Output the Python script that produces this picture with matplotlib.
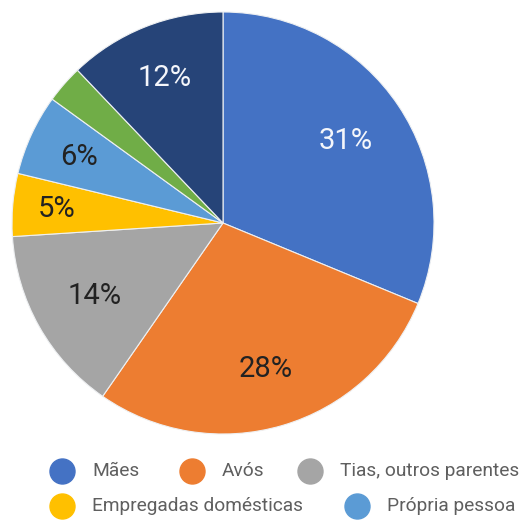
import matplotlib
matplotlib.use("Agg")
import numpy as np
import matplotlib.pyplot as plt
from matplotlib.lines import Line2D

categories = ["Mães", "Avós", "Tias, outros parentes", "Empregadas domésticas",
              "Própria pessoa", "Outros", "Ninguém"]
values = [31.2, 28.4, 14.3, 4.8, 6.2, 2.9, 12.1]
colors = ["#4472C4", "#ED7D31", "#A5A5A5", "#FFC000", "#5B9BD5", "#70AD47", "#264478"]
label_colors = ["#f4f6fb", "#222222", "#222222", "#222222", "#222222", "white", "#f4f6fb"]
label_dist = [0.70, 0.72, 0.70, 0.79, 0.75, 0.75, 0.74]
legend_items = categories[:5]

plt.rcParams["font.family"] = ["Roboto", "DejaVu Sans"]

W, H = 524, 521
fig = plt.figure(figsize=(W / 100, H / 100), dpi=100)

cx, cy, r = 223, 223, 211
ax = fig.add_axes([(cx - r) / W, (H - cy - r) / H, 2 * r / W, 2 * r / H])

wedges, _ = ax.pie(
    values, colors=colors, startangle=90, counterclock=False, radius=1,
    wedgeprops=dict(edgecolor="#eef0f2", linewidth=0.8),
)

# percentage labels inside the larger slices
for w, v, c, d in zip(wedges, values, label_colors, label_dist):
    if v < 4:
        continue
    mid = np.deg2rad((w.theta1 + w.theta2) / 2)
    ax.text(d * np.cos(mid), d * np.sin(mid), f"{v:.0f}%", fontsize=21,
            color=c, ha="center", va="center")

ax.set_xlim(-1, 1)
ax.set_ylim(-1, 1)
ax.set_aspect("equal")
ax.axis("off")

# two-row legend with circular markers
rows = [[(62, 0), (192, 1), (310, 2)], [(62, 3), (357, 4)]]
row_y = [471, 506]
for ry, row in zip(row_y, rows):
    for mx, idx in row:
        fig.add_artist(Line2D([mx / W], [1 - ry / H], marker="o", markersize=18,
                              color=colors[idx], linestyle="none",
                              transform=fig.transFigure))
        fig.text((mx + 30) / W, 1 - ry / H, legend_items[idx], fontsize=13.8,
                 color="#5f5f5f", va="center", ha="left")

fig.savefig("out.png", dpi=100)
